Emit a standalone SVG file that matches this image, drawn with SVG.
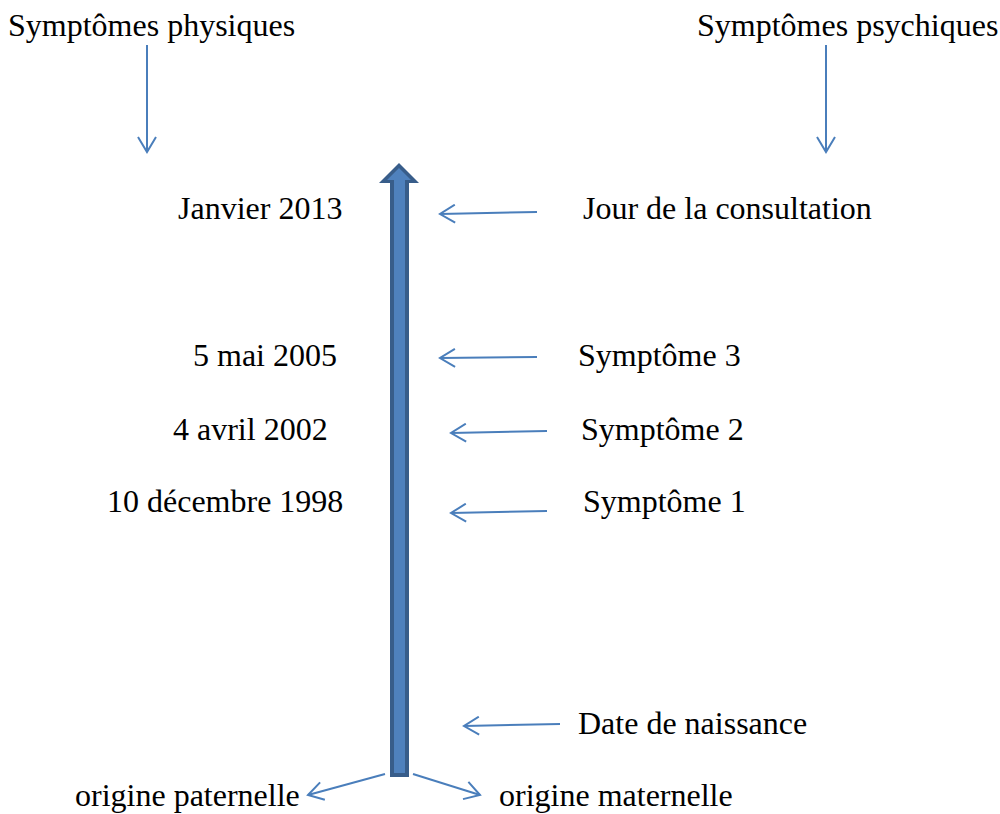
<svg xmlns="http://www.w3.org/2000/svg" width="1000" height="814" viewBox="0 0 1000 814">
<defs>
<style>
.t{font-family:"Liberation Serif","Times New Roman",serif;font-size:32px;fill:#000}
.c{stroke:#4A7EBB;stroke-width:2;fill:none}
</style>
<marker id="ah" viewBox="0 0 20 20" refX="17" refY="10" markerWidth="20" markerHeight="20" markerUnits="userSpaceOnUse" orient="auto">
<path d="M2,1 L17,10 L2,19" fill="none" stroke="#4A7EBB" stroke-width="2"/>
</marker>
</defs>
<rect width="1000" height="814" fill="#fff"/>
<g id="timeline">
<polygon points="399,163 419,183 409,183 409,777 390,777 390,183 379,183" fill="#385D8A"/>
<polygon points="399,168 411,180 405,180 405,773 394,773 394,180 387,180" fill="#4F81BD"/>
</g>
<g id="connectors">
<line class="c" x1="147" y1="45" x2="147" y2="152" marker-end="url(#ah)"/>
<line class="c" x1="826" y1="45" x2="826" y2="152" marker-end="url(#ah)"/>
<line class="c" x1="537" y1="212" x2="440" y2="214" marker-end="url(#ah)"/>
<line class="c" x1="537" y1="357" x2="440" y2="358" marker-end="url(#ah)"/>
<line class="c" x1="547" y1="431" x2="451" y2="433" marker-end="url(#ah)"/>
<line class="c" x1="547" y1="511" x2="451" y2="513" marker-end="url(#ah)"/>
<line class="c" x1="560" y1="724" x2="464" y2="726" marker-end="url(#ah)"/>
<line class="c" x1="385" y1="774" x2="308" y2="795" marker-end="url(#ah)"/>
<line class="c" x1="413" y1="774" x2="480" y2="795" marker-end="url(#ah)"/>
</g>
<g id="n-phys"><text class="t" x="8" y="36">Symptômes physiques</text></g>
<g id="n-psych"><text class="t" x="697" y="36">Symptômes psychiques</text></g>
<g id="n-jan"><text class="t" x="178" y="219">Janvier 2013</text></g>
<g id="n-jour"><text class="t" x="583" y="219">Jour de la consultation</text></g>
<g id="n-mai"><text class="t" x="193" y="366">5 mai 2005</text></g>
<g id="n-s3"><text class="t" x="578" y="366">Symptôme 3</text></g>
<g id="n-avr"><text class="t" x="173" y="440">4 avril 2002</text></g>
<g id="n-s2"><text class="t" x="581" y="440">Symptôme 2</text></g>
<g id="n-dec"><text class="t" x="107" y="512">10 décembre 1998</text></g>
<g id="n-s1"><text class="t" x="583" y="512">Symptôme 1</text></g>
<g id="n-naiss"><text class="t" x="578" y="734">Date de naissance</text></g>
<g id="n-pat"><text class="t" x="75" y="806">origine paternelle</text></g>
<g id="n-mat"><text class="t" x="499" y="806">origine maternelle</text></g>
</svg>
